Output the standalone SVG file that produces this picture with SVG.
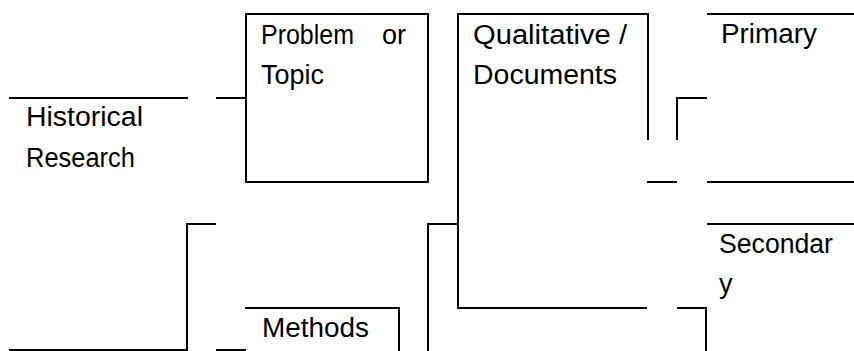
<svg xmlns="http://www.w3.org/2000/svg" width="854" height="351" viewBox="0 0 854 351">
<style>
.ln{stroke:#000;stroke-width:2;fill:none;stroke-linecap:butt}
.t{font-family:"Liberation Sans",Arial,sans-serif;font-size:27px;fill:#000}
</style>
<rect width="854" height="351" fill="#fff"/>
<g id="node-historical">
<line class="ln" x1="9" y1="98" x2="188" y2="98"/>
<text class="t" x="26" y="126" textLength="117" lengthAdjust="spacingAndGlyphs">Historical</text>
<text class="t" x="26" y="167" textLength="109" lengthAdjust="spacingAndGlyphs">Research</text>
</g>
<g id="node-problem">
<rect class="ln" x="246" y="14" width="182" height="168"/>
<text class="t" y="44"><tspan x="261" textLength="93" lengthAdjust="spacingAndGlyphs">Problem</tspan> <tspan x="382">or</tspan></text>
<text class="t" x="261" y="84" textLength="63" lengthAdjust="spacingAndGlyphs">Topic</text>
</g>
<g id="node-qualitative">
<path class="ln" d="M648 140 V14 H458 V308 H647"/>
<text class="t" x="473" y="44" textLength="154" lengthAdjust="spacingAndGlyphs">Qualitative /</text>
<text class="t" x="473" y="84" textLength="144" lengthAdjust="spacingAndGlyphs">Documents</text>
</g>
<g id="node-primary">
<line class="ln" x1="707" y1="14" x2="854" y2="14"/>
<line class="ln" x1="707" y1="182" x2="854" y2="182"/>
<text class="t" x="721" y="43" textLength="96" lengthAdjust="spacingAndGlyphs">Primary</text>
</g>
<g id="node-secondary">
<line class="ln" x1="707" y1="224" x2="854" y2="224"/>
<text class="t" x="719" y="253" textLength="114" lengthAdjust="spacingAndGlyphs">Secondar</text>
<text class="t" x="719" y="293">y</text>
</g>
<g id="node-methods">
<path class="ln" d="M245 308 H399 V351"/>
<text class="t" x="262" y="337" textLength="107" lengthAdjust="spacingAndGlyphs">Methods</text>
</g>
<g id="connectors">
<line class="ln" x1="216" y1="98" x2="246" y2="98"/>
<path class="ln" d="M216 224 H187 V350 H9"/>
<line class="ln" x1="216" y1="350" x2="246" y2="350"/>
<path class="ln" d="M458 224 H428 V351"/>
<path class="ln" d="M677 140 V98 H707"/>
<line class="ln" x1="647" y1="182" x2="677" y2="182"/>
<path class="ln" d="M677 308 H706 V351"/>
</g>
</svg>
